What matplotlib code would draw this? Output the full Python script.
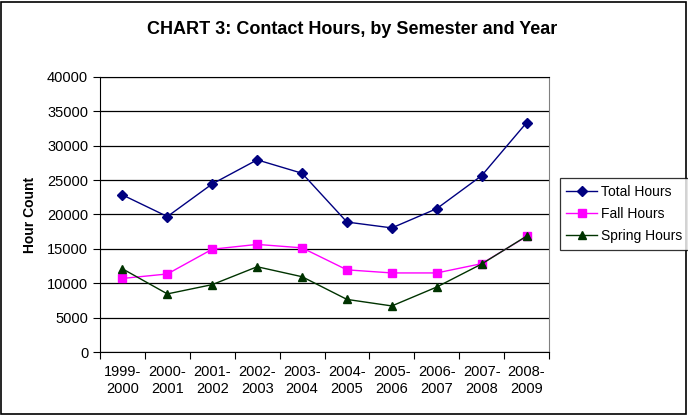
import matplotlib.pyplot as plt
from matplotlib.patches import Rectangle

plt.rcParams["font.family"] = ["Liberation Sans", "DejaVu Sans"]

years = ['1999-\n2000', '2000-\n2001', '2001-\n2002', '2002-\n2003', '2003-\n2004',
         '2004-\n2005', '2005-\n2006', '2006-\n2007', '2007-\n2008', '2008-\n2009']
total_hours = [22850, 19700, 24450, 27950, 26000, 18900, 18050, 20850, 25650, 33350]
fall_hours = [10700, 11350, 14950, 15650, 15150, 11950, 11500, 11500, 12850, 16800]
spring_hours = [12100, 8450, 9800, 12400, 10950, 7650, 6700, 9450, 12800, 16850]

W, H = 688, 415
fig = plt.figure(figsize=(W / 100, H / 100), dpi=100)
ax = fig.add_axes([100 / W, 1 - 352 / H, 449 / W, 275 / H])

x = list(range(len(years)))
ax.plot(x, total_hours, color='#000080', marker='D', markersize=5, linewidth=1, label='Total Hours')
ax.plot(x, fall_hours, color='#FF00FF', marker='s', markersize=6, linewidth=1, label='Fall Hours')
ax.plot(x, spring_hours, color='#003300', marker='^', markersize=6, linewidth=1, label='Spring Hours')

ax.set_xlim(-0.5, len(years) - 0.5)
ax.set_ylim(0, 40000)
ax.set_yticks(range(0, 40001, 5000))
ax.yaxis.grid(True, color='black', linewidth=0.9)
ax.set_axisbelow(True)

# Excel-style category axis: ticks at boundaries, labels centered
ax.set_xticks([i - 0.5 for i in range(len(years) + 1)])
ax.set_xticklabels([])
ax.set_xticks(x, minor=True)
ax.set_xticklabels(years, minor=True, fontsize=10.5, linespacing=1.35)
ax.tick_params(axis='x', which='major', length=5, direction='out', color='black')
ax.tick_params(axis='x', which='minor', length=0, pad=9)
ax.tick_params(axis='y', length=5, labelsize=10.5, color='black')

ax.spines['top'].set_color('black')
ax.spines['right'].set_color('#808080')
for s in ['left', 'bottom']:
    ax.spines[s].set_color('black')

ax.set_ylabel('Hour Count', fontsize=10, fontweight='bold', labelpad=7)
fig.text(352 / W, 1 - 30 / H, 'CHART 3: Contact Hours, by Semester and Year',
         ha='center', va='center', fontsize=13, fontweight='bold')

leg = fig.legend(loc='center left', bbox_to_anchor=(560 / W, 1 - 214 / H),
                 fontsize=10, frameon=True, fancybox=False, edgecolor='black',
                 handlelength=2.2, borderpad=0.45, labelspacing=0.6, handletextpad=0.3,
                 borderaxespad=0)
leg.get_frame().set_linewidth(0.9)

fig.patches.append(Rectangle((1 / W, 1 / H), 1 - 3 / W, 1 - 3 / H, transform=fig.transFigure,
                             fill=False, edgecolor='black', linewidth=1.2))

fig.savefig('out.png', dpi=100)
